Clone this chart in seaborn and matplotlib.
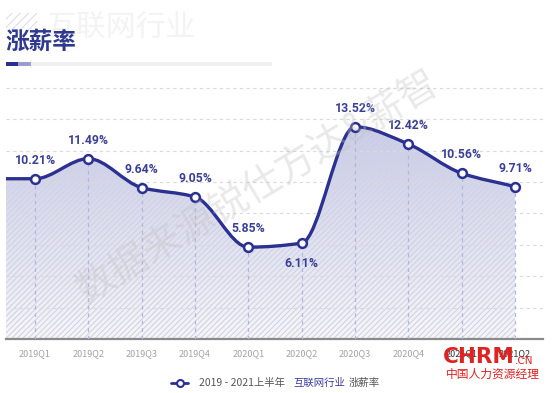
import numpy as np
import matplotlib
matplotlib.use("Agg")
import matplotlib.pyplot as plt
import seaborn as sns
from matplotlib.path import Path
from matplotlib.patches import PathPatch, Rectangle
from matplotlib.colors import LinearSegmentedColormap
from matplotlib.lines import Line2D

# data
quarters = ["2019Q1", "2019Q2", "2019Q3", "2019Q4", "2020Q1",
            "2020Q2", "2020Q3", "2020Q4", "2021Q1", "2021Q2"]
rates = [10.21, 11.49, 9.64, 9.05, 5.85, 6.11, 13.52, 12.42, 10.56, 9.71]
labels_below = ["2020Q2"]

NAVY = "#2b3190"
LABEL = "#3a3f96"

sns.set_style("white")
plt.rcParams['font.family'] = ['Noto Sans CJK SC', 'DejaVu Sans']
plt.rcParams['hatch.linewidth'] = 0.8

W, H = 554, 393
fig = plt.figure(figsize=(W / 100, H / 100), dpi=100)


def px_box(x0, y0, x1, y1):
    return [x0 / W, 1 - y1 / H, (x1 - x0) / W, (y1 - y0) / H]


def smooth_path(xs, ys):
    # monotone cubic (Fritsch-Carlson) as bezier segments
    xs = np.asarray(xs, float)
    ys = np.asarray(ys, float)
    dx = np.diff(xs)
    d = np.diff(ys) / dx
    m = np.zeros(len(xs))
    m[0], m[-1] = d[0], d[-1]
    for i in range(1, len(xs) - 1):
        if d[i - 1] * d[i] <= 0:
            m[i] = 0
        else:
            m[i] = 2 / (1 / d[i - 1] + 1 / d[i])
    verts = [(xs[0], ys[0])]
    codes = [Path.MOVETO]
    for i in range(len(dx)):
        h = dx[i] / 3
        verts += [(xs[i] + h, ys[i] + m[i] * h),
                  (xs[i + 1] - h, ys[i + 1] - m[i + 1] * h),
                  (xs[i + 1], ys[i + 1])]
        codes += [Path.CURVE4] * 3
    return verts, codes


ax = fig.add_axes(px_box(6, 80, 543, 339))
x_left, x_right = -0.544, 9.525
y_top = 16.5
ax.set_xlim(x_left, x_right)
ax.set_ylim(0, y_top)

xs = np.arange(len(rates))
xe = np.r_[x_left, xs]
ye = np.r_[rates[0], rates]
verts, codes = smooth_path(xe, ye)
curve = Path(verts, codes)

fill_path = Path(verts + [(xe[-1], 0), (xe[0], 0), (xe[0], ye[0])],
                 codes + [Path.LINETO, Path.LINETO, Path.CLOSEPOLY])

# dashed grid
ax.hlines(np.arange(2, 17, 2), x_left, x_right, colors="#dadada",
          linestyles=(0, (3, 3)), lw=0.8, zorder=3)

# gradient fill under curve
cmap = LinearSegmentedColormap.from_list("fade", ["#f6f6fa", "#c4c7e8"])
grad = np.linspace(1, 0, 256).reshape(-1, 1)
clip = PathPatch(fill_path, facecolor="none", edgecolor="none")
ax.add_patch(clip)
im = ax.imshow(grad, extent=[x_left, xs[-1], 0, 14.5], aspect="auto",
               cmap=cmap, vmin=0, vmax=1, zorder=1, origin="upper")
im.set_clip_path(clip)
ax.add_patch(PathPatch(fill_path, facecolor="none", edgecolor="#d2d3e0",
                       hatch="//////", lw=0, zorder=2))

ax.vlines(xs, 0, rates, colors="#b3b6dc", linestyles=(0, (3, 3)), lw=0.9, zorder=3)

ax.add_patch(PathPatch(curve, facecolor="none", edgecolor=NAVY, lw=2.4,
                       zorder=4, capstyle="round"))
sns.scatterplot(x=xs, y=rates, s=40, color="white", edgecolor=NAVY,
                linewidth=1.8, zorder=5, ax=ax, legend=False)

for q, x, v in zip(quarters, xs, rates):
    dy = -14.5 if q in labels_below else 13.2
    ax.annotate(f"{v:.2f}%", (x, v), xytext=(0, dy), textcoords="offset points",
                ha="center", va="center", fontsize=8.8, fontweight="bold",
                color=LABEL, family="Roboto")

ax.set_xticks(xs, quarters)
ax.set_yticks([])
ax.tick_params(axis="x", length=0, pad=7, labelsize=6.5, colors="#a3a3a3")
for t in ax.get_xticklabels()[-2:]:
    t.set_color("#333333")
for s in ["left", "right", "top"]:
    ax.spines[s].set_visible(False)
ax.spines["bottom"].set_color("#8a8a8a")
ax.spines["bottom"].set_linewidth(1.6)

# overlay in pixel coordinates
ov = fig.add_axes([0, 0, 1, 1], zorder=3)
ov.set_xlim(0, W)
ov.set_ylim(H, 0)
ov.axis("off")
ov.patch.set_alpha(0)

ov.add_patch(Rectangle((6, 13), 31, 18, facecolor="none", edgecolor="#dcdcee",
                       hatch="////", lw=0))
ov.text(46, 28, "互联网行业", fontsize=21.5, color="#f3f3f3", va="center")
ov.text(5, 42, "涨薪率", fontsize=17, fontweight="bold", color="#2f3a8f", va="center")
ov.add_patch(Rectangle((6, 62), 12, 4, color=NAVY, lw=0))
ov.add_patch(Rectangle((18, 62), 13, 4, color="#9a9dd0", lw=0))
ov.add_patch(Rectangle((31, 62), 241, 4, color="#f0f0f0", lw=0))

ov.text(258, 188, "数据来源锐仕方达&薪智", rotation=31, fontsize=28,
        color="#c0c0c0", alpha=0.35, ha="center", va="center")

# legend
ov.add_line(Line2D([171, 188], [383, 383], color=NAVY, lw=2))
ov.plot(179.5, 383, "o", mfc="white", mec=NAVY, ms=5, mew=1.5)
ov.text(199, 383, "2019 - 2021上半年", fontsize=7.5, color="#555555", va="center")
ov.text(293, 383, "互联网行业", fontsize=7.5, color="#3b3f96", va="center")
ov.text(349, 383, "涨薪率", fontsize=7.5, color="#555555", va="center")

# site logo
ov.text(443, 357, "CHRM", fontsize=15.5, fontweight="bold", color="#e02222",
        va="center", family="DejaVu Sans")
ov.text(515, 361, ".CN", fontsize=7.5, color="#e02222", va="center", family="DejaVu Sans")
ov.text(446, 374, "中国人力资源经理", fontsize=8.5, color="#e02222", va="center")

fig.savefig("out.png", dpi=100)
